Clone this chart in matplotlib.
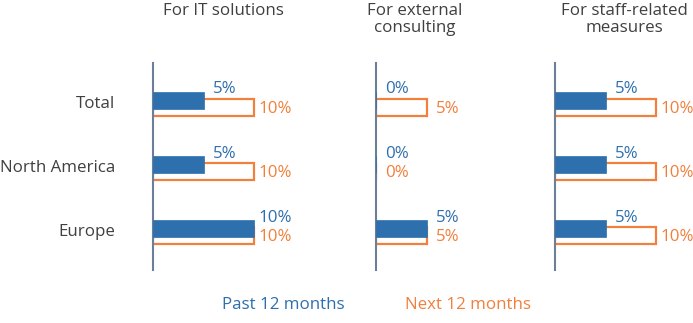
import matplotlib
matplotlib.use("Agg")
import matplotlib.pyplot as plt

plt.rcParams['font.family'] = ['Open Sans', 'DejaVu Sans']

categories = ["Total", "North America", "Europe"]
panel_titles = ["For IT solutions", "For external\nconsulting", "For staff-related\nmeasures"]
past_12 = [[5, 5, 10], [0, 0, 5], [5, 5, 5]]
next_12 = [[10, 10, 10], [5, 0, 5], [10, 10, 10]]
legend_labels = ["Past 12 months", "Next 12 months"]

BLUE = "#2e6fad"
ORANGE = "#f0803c"
AXIS = "#6d7f95"
TXT = "#404040"
W, H = 693, 323
fig = plt.figure(figsize=(W / 100, H / 100), dpi=100)

axis_x = [153, 376, 555]
title_cx = [223, 415, 624]
px_per_unit = 10.1
ax_w = 135
top_px, bot_px = 63, 270
FS = 12.2

for p in range(3):
    ax = fig.add_axes([axis_x[p] / W, (H - bot_px) / H, ax_w / W, (bot_px - top_px) / H])
    ax.set_xlim(0, ax_w / px_per_unit)
    ax.set_ylim(2.59, -0.64)
    for s in ["top", "right", "bottom"]:
        ax.spines[s].set_visible(False)
    ax.spines["left"].set_color(AXIS)
    ax.spines["left"].set_linewidth(1.5)
    ax.set_xticks([])
    ax.set_yticks([])
    ax.patch.set_alpha(0)
    ys = range(len(categories))
    h = 0.266
    off = 0.055
    ax.barh([y + off for y in ys], next_12[p], height=h, facecolor="white",
            edgecolor=ORANGE, linewidth=1.6, zorder=2)
    ax.barh([y - off for y in ys], past_12[p], height=h, color=BLUE,
            edgecolor=BLUE, linewidth=0.5, zorder=3)
    for i, y in enumerate(ys):
        ax.annotate(f"{past_12[p][i]}%", (past_12[p][i], y - off), xytext=(15.3, 11 * 0.72),
                    textcoords="offset points", ha="center", va="center",
                    color=BLUE, fontsize=FS)
        ax.annotate(f"{next_12[p][i]}%", (next_12[p][i], y + off), xytext=(15.3, -1.5 * 0.72),
                    textcoords="offset points", ha="center", va="center",
                    color=ORANGE, fontsize=FS)
    fig.text(title_cx[p] / W, 1 - 3 / H, panel_titles[p], ha="center", va="top",
             fontsize=FS, color=TXT, linespacing=1.1)

row_px = [104, 168, 232]
for c, y in zip(categories, row_px):
    fig.text(115 / W, 1 - y / H, c, ha="right", va="center", fontsize=FS, color=TXT)

fig.text(222 / W, 1 - 305 / H, legend_labels[0], ha="left", va="center", fontsize=FS, color=BLUE)
fig.text(405 / W, 1 - 305 / H, legend_labels[1], ha="left", va="center", fontsize=FS, color=ORANGE)

fig.savefig("out.png", dpi=100)
